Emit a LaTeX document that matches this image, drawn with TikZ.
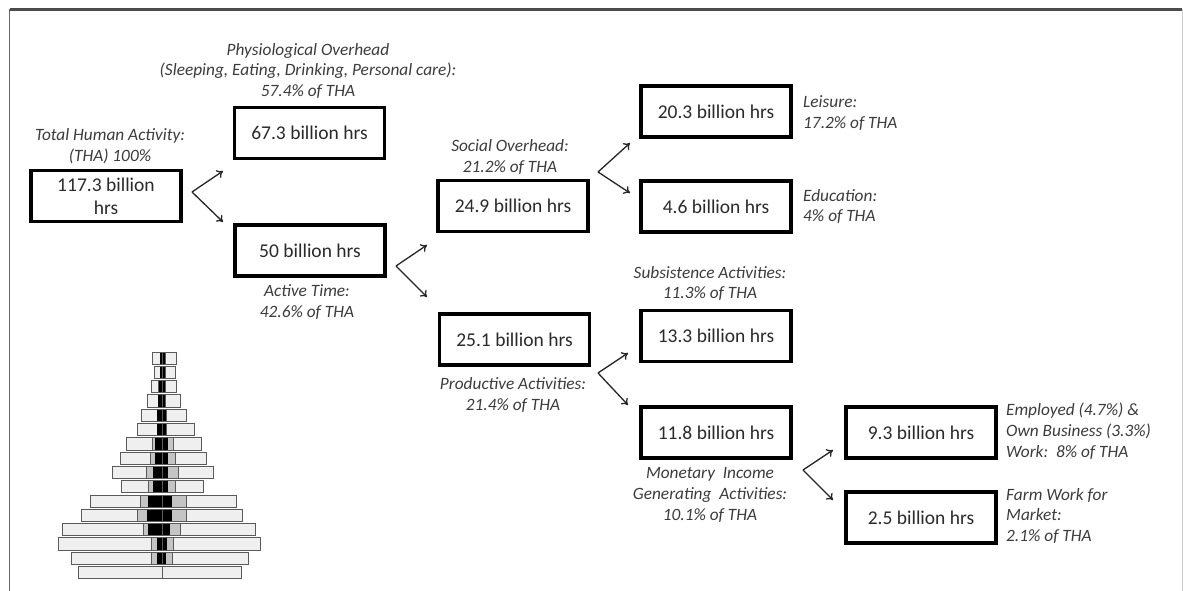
\documentclass[tikz,border=0pt]{standalone}
\usepackage{fontspec}
\setmainfont{Carlito}
\usetikzlibrary{arrows.meta}
\definecolor{boxtext}{HTML}{2A2A2A}
\definecolor{labeltext}{HTML}{3C3C3C}
\definecolor{barlight}{HTML}{EFEFEF}
\definecolor{barmid}{HTML}{C4C4C4}
\definecolor{barline}{HTML}{5A5A5A}
\tikzset{
  hrsbox/.style={draw=black, line width=3.1pt, minimum width=150pt, minimum height=51pt,
    inner sep=0pt, align=center, text=boxtext, font=\fontsize{19.5}{23}\selectfont},
  tag/.style={inner sep=0pt, text=labeltext, font=\fontsize{17.3}{20.8}\selectfont\itshape},
  ctag/.style={tag, align=center},
  ltag/.style={tag, align=left, anchor=west},
  fork/.style={draw=black!85, line width=1.3pt, -{To[length=6pt,width=9pt]}},
}
% one row of the pyramid: #1 top, #2 left end, #3 grey left, #4 black left,
% #5 black right, #6 grey right, #7 right end
\newcommand{\pyrrow}[7]{%
  \draw[barline, fill=barlight, line width=0.9pt] (#2,#1) rectangle (#7,#1+12.2);
  \draw[barline, fill=barmid, line width=0.9pt] (#3,#1) rectangle (#6,#1+12.2);
  \fill[black] (#4,#1+0.5) rectangle (#5,#1+11.7);
  \draw[barline, line width=0.7pt] (162.3,#1) -- (162.3,#1+12.2);
}
\begin{document}
\begin{tikzpicture}[x=1pt, y=-1pt]
\useasboundingbox (0,0) rectangle (1183,591);
\fill[white] (0,0) rectangle (1183,591);

% frame
\draw[black!70, line width=2.2pt] (9.5,9.5) -- (1182,9.5);
\draw[black!60, line width=1.6pt] (9.5,9.5) -- (9.5,591);
\draw[black!20, line width=1pt] (1182,9.5) -- (1182,591);

% boxes
\node[hrsbox] (tot)  at (106,196)   {117.3 billion\\hrs};
\node[hrsbox] (phys) at (309.5,133) {67.3 billion hrs};
\node[hrsbox] (act)  at (310,250.5) {50 billion hrs};
\node[hrsbox] (soc)  at (513,206)   {24.9 billion hrs};
\node[hrsbox] (leis) at (716,111.5) {20.3 billion hrs};
\node[hrsbox] (edu)  at (716,206.5) {4.6 billion hrs};
\node[hrsbox] (prod) at (514.5,339.5) {25.1 billion hrs};
\node[hrsbox] (subs) at (716,336)   {13.3 billion hrs};
\node[hrsbox] (mon)  at (716,432.5) {11.8 billion hrs};
\node[hrsbox] (emp)  at (921,432.5) {9.3 billion hrs};
\node[hrsbox] (farm) at (921,517.5) {2.5 billion hrs};

% labels
\node[ctag] (ltot)  at (110,146)   {Total Human Activity:\\(THA) 100\%};
\node[ctag] (lphys) at (308,71)    {Physiological Overhead\\(Sleeping, Eating, Drinking, Personal care):\\57.4\% of THA};
\node[ctag] (lsoc)  at (510,157)   {Social Overhead:\\21.2\% of THA};
\node[ltag] (lleis) at (803,113)   {Leisure:\\17.2\% of THA};
\node[ltag] (ledu)  at (803,206.5) {Education:\\4\% of THA};
\node[ctag] (lact)  at (307,302)   {Active Time:\\42.6\% of THA};
\node[ctag] (lsubs) at (710,283.5) {Subsistence Activities:\\11.3\% of THA};
\node[ctag] (lprod) at (513,395)   {Productive Activities:\\21.4\% of THA};
\node[ctag] (lmon)  at (710,495)   {Monetary\ \ Income\\Generating\ \ Activities:\\10.1\% of THA};
\node[ltag] (lemp)  at (1006,431)  {Employed (4.7\%) \&\\Own Business (3.3\%)\\Work:\ \ 8\% of THA};
\node[ltag] (lfarm) at (1006,516)  {Farm Work for\\Market:\\2.1\% of THA};

% fork points and arrow ends
\coordinate (f1) at (192,192); \coordinate (f1a) at (223,171); \coordinate (f1b) at (223,222);
\coordinate (f2) at (396,266); \coordinate (f2a) at (427,245); \coordinate (f2b) at (427,297);
\coordinate (f3) at (598,172); \coordinate (f3a) at (630,143); \coordinate (f3b) at (630,193);
\coordinate (f4) at (598,373); \coordinate (f4a) at (628,353); \coordinate (f4b) at (628,405);
\coordinate (f5) at (803,470); \coordinate (f5a) at (833,450); \coordinate (f5b) at (833,500);
\foreach \f in {f1,f2,f3,f4,f5} {
  \draw[fork] (\f) -- (\f a);
  \draw[fork] (\f) -- (\f b);
}

% population pyramid
\pyrrow{352.0}{152.7}{160.0}{160.0}{165.0}{165.0}{176.0}
\pyrrow{366.3}{154.0}{160.0}{160.0}{165.0}{165.0}{175.0}
\pyrrow{380.6}{151.0}{158.7}{158.7}{165.0}{165.0}{176.7}
\pyrrow{394.9}{147.3}{158.0}{158.0}{165.0}{165.0}{180.0}
\pyrrow{409.2}{141.7}{157.0}{157.0}{166.0}{166.0}{186.7}
\pyrrow{423.5}{137.3}{157.0}{157.0}{166.0}{166.0}{194.0}
\pyrrow{437.8}{126.0}{152.7}{155.0}{168.3}{173.3}{201.7}
\pyrrow{452.1}{120.0}{150.0}{155.0}{168.3}{175.0}{206.7}
\pyrrow{466.4}{112.7}{146.0}{153.3}{168.3}{178.3}{213.3}
\pyrrow{480.7}{121.0}{148.3}{153.3}{168.3}{175.0}{203.3}
\pyrrow{495.0}{90.7}{140.0}{148.3}{171.7}{186.0}{236.0}
\pyrrow{509.3}{81.7}{137.3}{147.3}{171.7}{186.0}{242.7}
\pyrrow{523.6}{62.7}{143.3}{148.3}{170.0}{180.0}{255.0}
\pyrrow{537.9}{58.3}{151.7}{156.7}{166.7}{173.3}{260.0}
\pyrrow{552.2}{71.7}{151.7}{156.7}{166.0}{172.7}{248.3}
\draw[barline, fill=barlight, line width=0.9pt] (78.3,566.5) rectangle (241.7,578.7);
\draw[barline, line width=0.7pt] (162.3,566.5) -- (162.3,578.7);
\end{tikzpicture}
\end{document}
